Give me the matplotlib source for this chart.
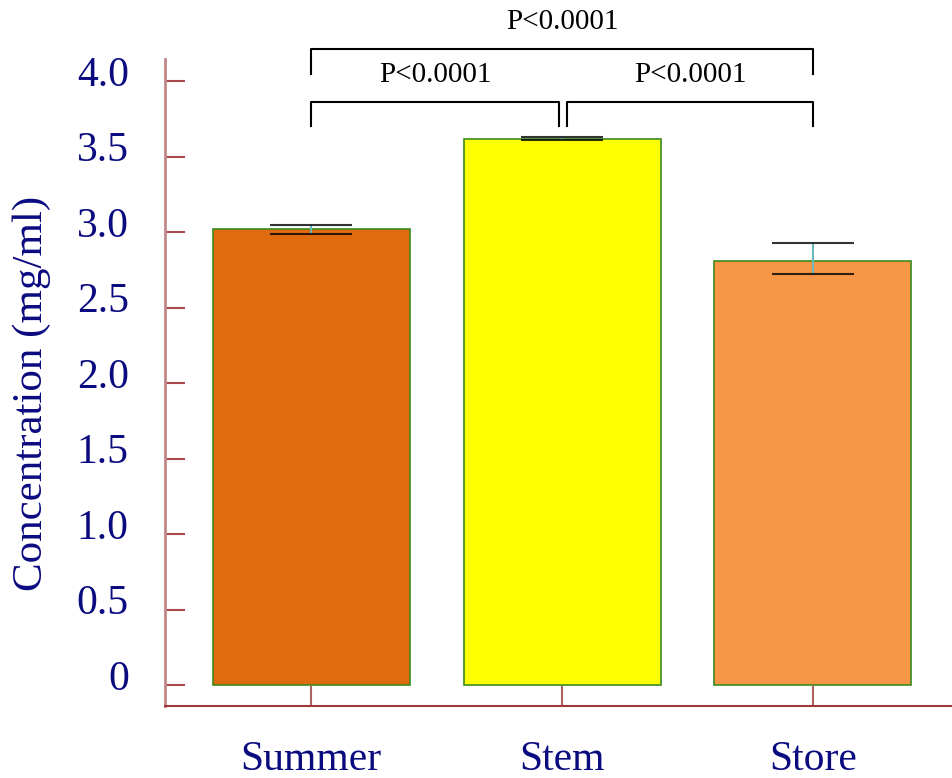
import matplotlib
matplotlib.use("Agg")
import matplotlib.pyplot as plt
import matplotlib.transforms as mtransforms
import numpy as np

# Protein concentration per sample group
groups = ["Summer", "Stem", "Store"]
means = [3.02, 3.62, 2.81]
err_low = [0.03, 0.01, 0.09]
err_high = [0.03, 0.01, 0.12]
bar_colors = ["#e06a0e", "#ffff00", "#f79646"]
yticks = [0, 0.5, 1.0, 1.5, 2.0, 2.5, 3.0, 3.5, 4.0]
ytick_labels = ["0", "0.5", "1.0", "1.5", "2.0", "2.5", "3.0", "3.5", "4.0"]
p_label = "P<0.0001"

navy = "#0b0b80"
plt.rcParams['font.family'] = ['Liberation Serif', 'DejaVu Serif']

fig = plt.figure(figsize=(9.52, 7.78), dpi=100)
ax = fig.add_axes([0.1733, 0.0925, 0.8267, 0.8315])

x = np.arange(len(groups))
ax.bar(x, means, width=0.785, color=bar_colors, edgecolor="#3d8a1c",
       linewidth=1.2, zorder=2)

eb = ax.errorbar(x, means, yerr=[err_low, err_high], fmt="none",
                 ecolor="#6bb8b8", elinewidth=1.5, capsize=29.5,
                 capthick=1.5, zorder=3)
for cap in eb[1]:
    cap.set_markeredgecolor("black")
    cap.set_alpha(0.8)

ax.set_xlim(-0.582, 2.554)
ax.set_ylim(-0.139, 4.146)

ax.set_xticks(x)
ax.set_xticklabels(groups, fontsize=30, color=navy)
ax.set_yticks(yticks)
ax.set_yticklabels(ytick_labels, fontsize=30, color=navy)
ax.tick_params(axis="y", direction="in", length=14.4, width=1.5,
               color="#a84848", pad=26)
ax.tick_params(axis="x", direction="in", length=14.4, width=1.5,
               color="#b06060", pad=25)

# tick labels sit a little above their ticks
up = mtransforms.ScaledTranslation(0, 10 / 100, fig.dpi_scale_trans)
for lbl in ax.get_yticklabels():
    lbl.set_transform(lbl.get_transform() + up)

for side in ["top", "right"]:
    ax.spines[side].set_visible(False)
ax.spines["left"].set_color("#c08888")
ax.spines["left"].set_linewidth(2)
ax.spines["bottom"].set_color("#a03a3a")
ax.spines["bottom"].set_linewidth(1.5)

fig.text(32 / 952, 1 - 393 / 778, "Concentration (mg/ml)", rotation=90,
         ha="center", va="center", fontsize=31, color=navy)

# significance brackets above the bars
top = max(m + e for m, e in zip(means, err_high))


def bracket(x0, x1, y_end, y_bar, label, y_text):
    ax.plot([x0, x0, x1, x1], [y_end, y_bar, y_bar, y_end], color="black",
            lw=1.5, clip_on=False, zorder=4)
    ax.text((x0 + x1) / 2, y_text, label, ha="center", va="center",
            fontsize=21, color="black", clip_on=False)


bracket(0, 0.99, top + 0.07, top + 0.23, p_label, top + 0.41)
bracket(1.02, 2, top + 0.07, top + 0.23, p_label, top + 0.41)
bracket(0, 2, top + 0.42, top + 0.58, p_label, top + 0.76)

fig.savefig("out.png", dpi=100)
